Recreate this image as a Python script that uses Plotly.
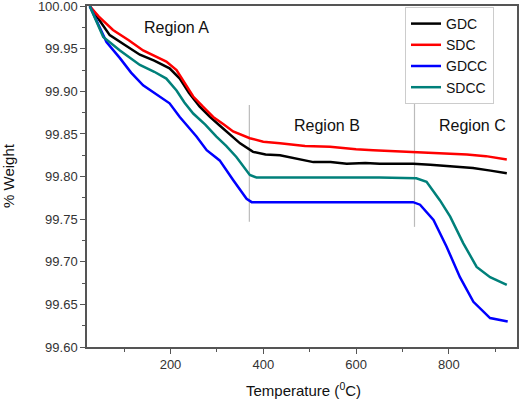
import plotly.graph_objects as go

# ---- data ----
gdc_t = [26, 45, 69, 100, 134, 165, 198, 220, 240, 263, 285, 306, 330, 350, 378, 405, 436, 470, 508, 545, 580, 620, 651, 690, 723, 760, 800, 852, 890, 925]
gdc_w = [100.00, 99.985, 99.966, 99.955, 99.943, 99.936, 99.927, 99.915, 99.898, 99.882, 99.870, 99.860, 99.848, 99.839, 99.829, 99.826, 99.825, 99.821, 99.817, 99.817, 99.815, 99.816, 99.815, 99.815, 99.815, 99.814, 99.812, 99.810, 99.807, 99.804]

sdc_t = [26, 45, 76, 110, 141, 165, 191, 213, 230, 249, 270, 292, 315, 335, 371, 400, 436, 490, 544, 600, 637, 680, 723, 780, 839, 880, 925]
sdc_w = [100.00, 99.988, 99.972, 99.960, 99.948, 99.942, 99.935, 99.925, 99.910, 99.894, 99.882, 99.870, 99.861, 99.853, 99.845, 99.841, 99.839, 99.836, 99.835, 99.832, 99.831, 99.830, 99.829, 99.828, 99.826, 99.824, 99.820]

gdcc_t = [26, 40, 62, 91, 115, 141, 170, 198, 220, 256, 278, 306, 335, 364, 375, 450, 550, 650, 723, 738, 767, 795, 824, 853, 889, 927]
gdcc_w = [100.00, 99.984, 99.958, 99.939, 99.922, 99.907, 99.896, 99.886, 99.870, 99.847, 99.831, 99.819, 99.796, 99.774, 99.770, 99.770, 99.770, 99.770, 99.770, 99.767, 99.749, 99.718, 99.682, 99.653, 99.634, 99.630]

sdcc_t = [26, 40, 55, 91, 134, 165, 191, 213, 230, 249, 275, 299, 320, 342, 360, 371, 385, 450, 550, 650, 730, 752, 781, 803, 831, 860, 889, 925]
sdcc_w = [100.00, 99.982, 99.964, 99.948, 99.931, 99.923, 99.915, 99.901, 99.887, 99.874, 99.861, 99.847, 99.836, 99.823, 99.810, 99.802, 99.799, 99.799, 99.799, 99.799, 99.798, 99.794, 99.772, 99.753, 99.722, 99.694, 99.682, 99.673]

series_names = ["GDC", "SDC", "GDCC", "SDCC"]
series_colors = ["#000000", "#ff0000", "#0000ff", "#00807a"]

region_labels = ["Region A", "Region B", "Region C"]
region_label_t = [214, 537, 850]
region_label_w = [99.975, 99.860, 99.860]
boundary_t = [370, 726]
boundary_w_lo = [99.747, 99.741]
boundary_w_hi = [99.884, 99.911]

W, H = 520, 399
L, R, T, B = 87, 3, 6, 52
pw, ph = W - L - R, H - T - B

fig = go.Figure()
for t, w, name, color in zip([gdc_t, sdc_t, gdcc_t, sdcc_t], [gdc_w, sdc_w, gdcc_w, sdcc_w], series_names, series_colors):
    fig.add_trace(go.Scatter(x=t, y=w, mode="lines", name=name,
                             line=dict(color=color, width=2.5)))

for bt, lo, hi in zip(boundary_t, boundary_w_lo, boundary_w_hi):
    fig.add_shape(type="line", x0=bt, x1=bt, y0=lo, y1=hi, xref="x", yref="y",
                  line=dict(color="#bbbbbb", width=1.2), layer="below")

for lab, t, w in zip(region_labels, region_label_t, region_label_w):
    fig.add_annotation(x=t, y=w, text=lab, showarrow=False,
                       font=dict(size=16, color="#111111", family="Arial, Liberation Sans"))

# axis titles as paper-positioned annotations (pixel -> paper fraction)
fig.add_annotation(x=(303 - L) / pw, y=(H - B - 390) / ph, xref="paper", yref="paper",
                   text="Temperature (<sup>0</sup>C)", showarrow=False, yanchor="middle",
                   font=dict(size=15, color="#111111"))
fig.add_annotation(x=(8 - L) / pw, y=(H - B - 176) / ph, xref="paper", yref="paper",
                   text="% Weight", textangle=-90, showarrow=False, xanchor="center", yanchor="middle",
                   font=dict(size=15, color="#111111"))

axis_font = dict(size=13, color="#333333", family="Arial, Liberation Sans")
fig.update_layout(
    width=W, height=H,
    margin=dict(l=L, r=R, t=T, b=B, autoexpand=False),
    plot_bgcolor="white", paper_bgcolor="white",
    font=dict(family="Arial, Liberation Sans", color="#222222"),
    legend=dict(x=(405 - L) / pw, y=1 - (7 - T) / ph, xanchor="left", yanchor="top",
                bgcolor="white", bordercolor="#cccccc", borderwidth=1,
                font=dict(size=14, color="#111111"),
                tracegroupgap=0, itemwidth=30),
    xaxis=dict(range=[20, 947], tick0=0, dtick=200, ticks="outside", ticklen=5,
               tickwidth=1.2, tickcolor="#555555", automargin=False, ticklabeloverflow="allow",
               showline=True, linecolor="#555555", linewidth=1.5, mirror=True,
               showgrid=False, zeroline=False, tickfont=axis_font,
               minor=dict(dtick=100, ticks="outside", ticklen=3, tickcolor="#555555")),
    yaxis=dict(range=[99.60, 100.0002], tick0=99.60, dtick=0.05, tickformat=".2f",
               ticks="outside", ticklen=5, tickwidth=1.2, tickcolor="#555555", automargin=False,
               ticklabeloverflow="allow",
               showline=True, linecolor="#555555", linewidth=1.5, mirror=True,
               showgrid=False, zeroline=False, tickfont=axis_font,
               minor=dict(dtick=0.025, ticks="outside", ticklen=3, tickcolor="#555555")),
)

fig.write_html("out.html", config={"displayModeBar": False},
               post_script="document.body.style.margin='0px';document.body.style.overflow='hidden';")
